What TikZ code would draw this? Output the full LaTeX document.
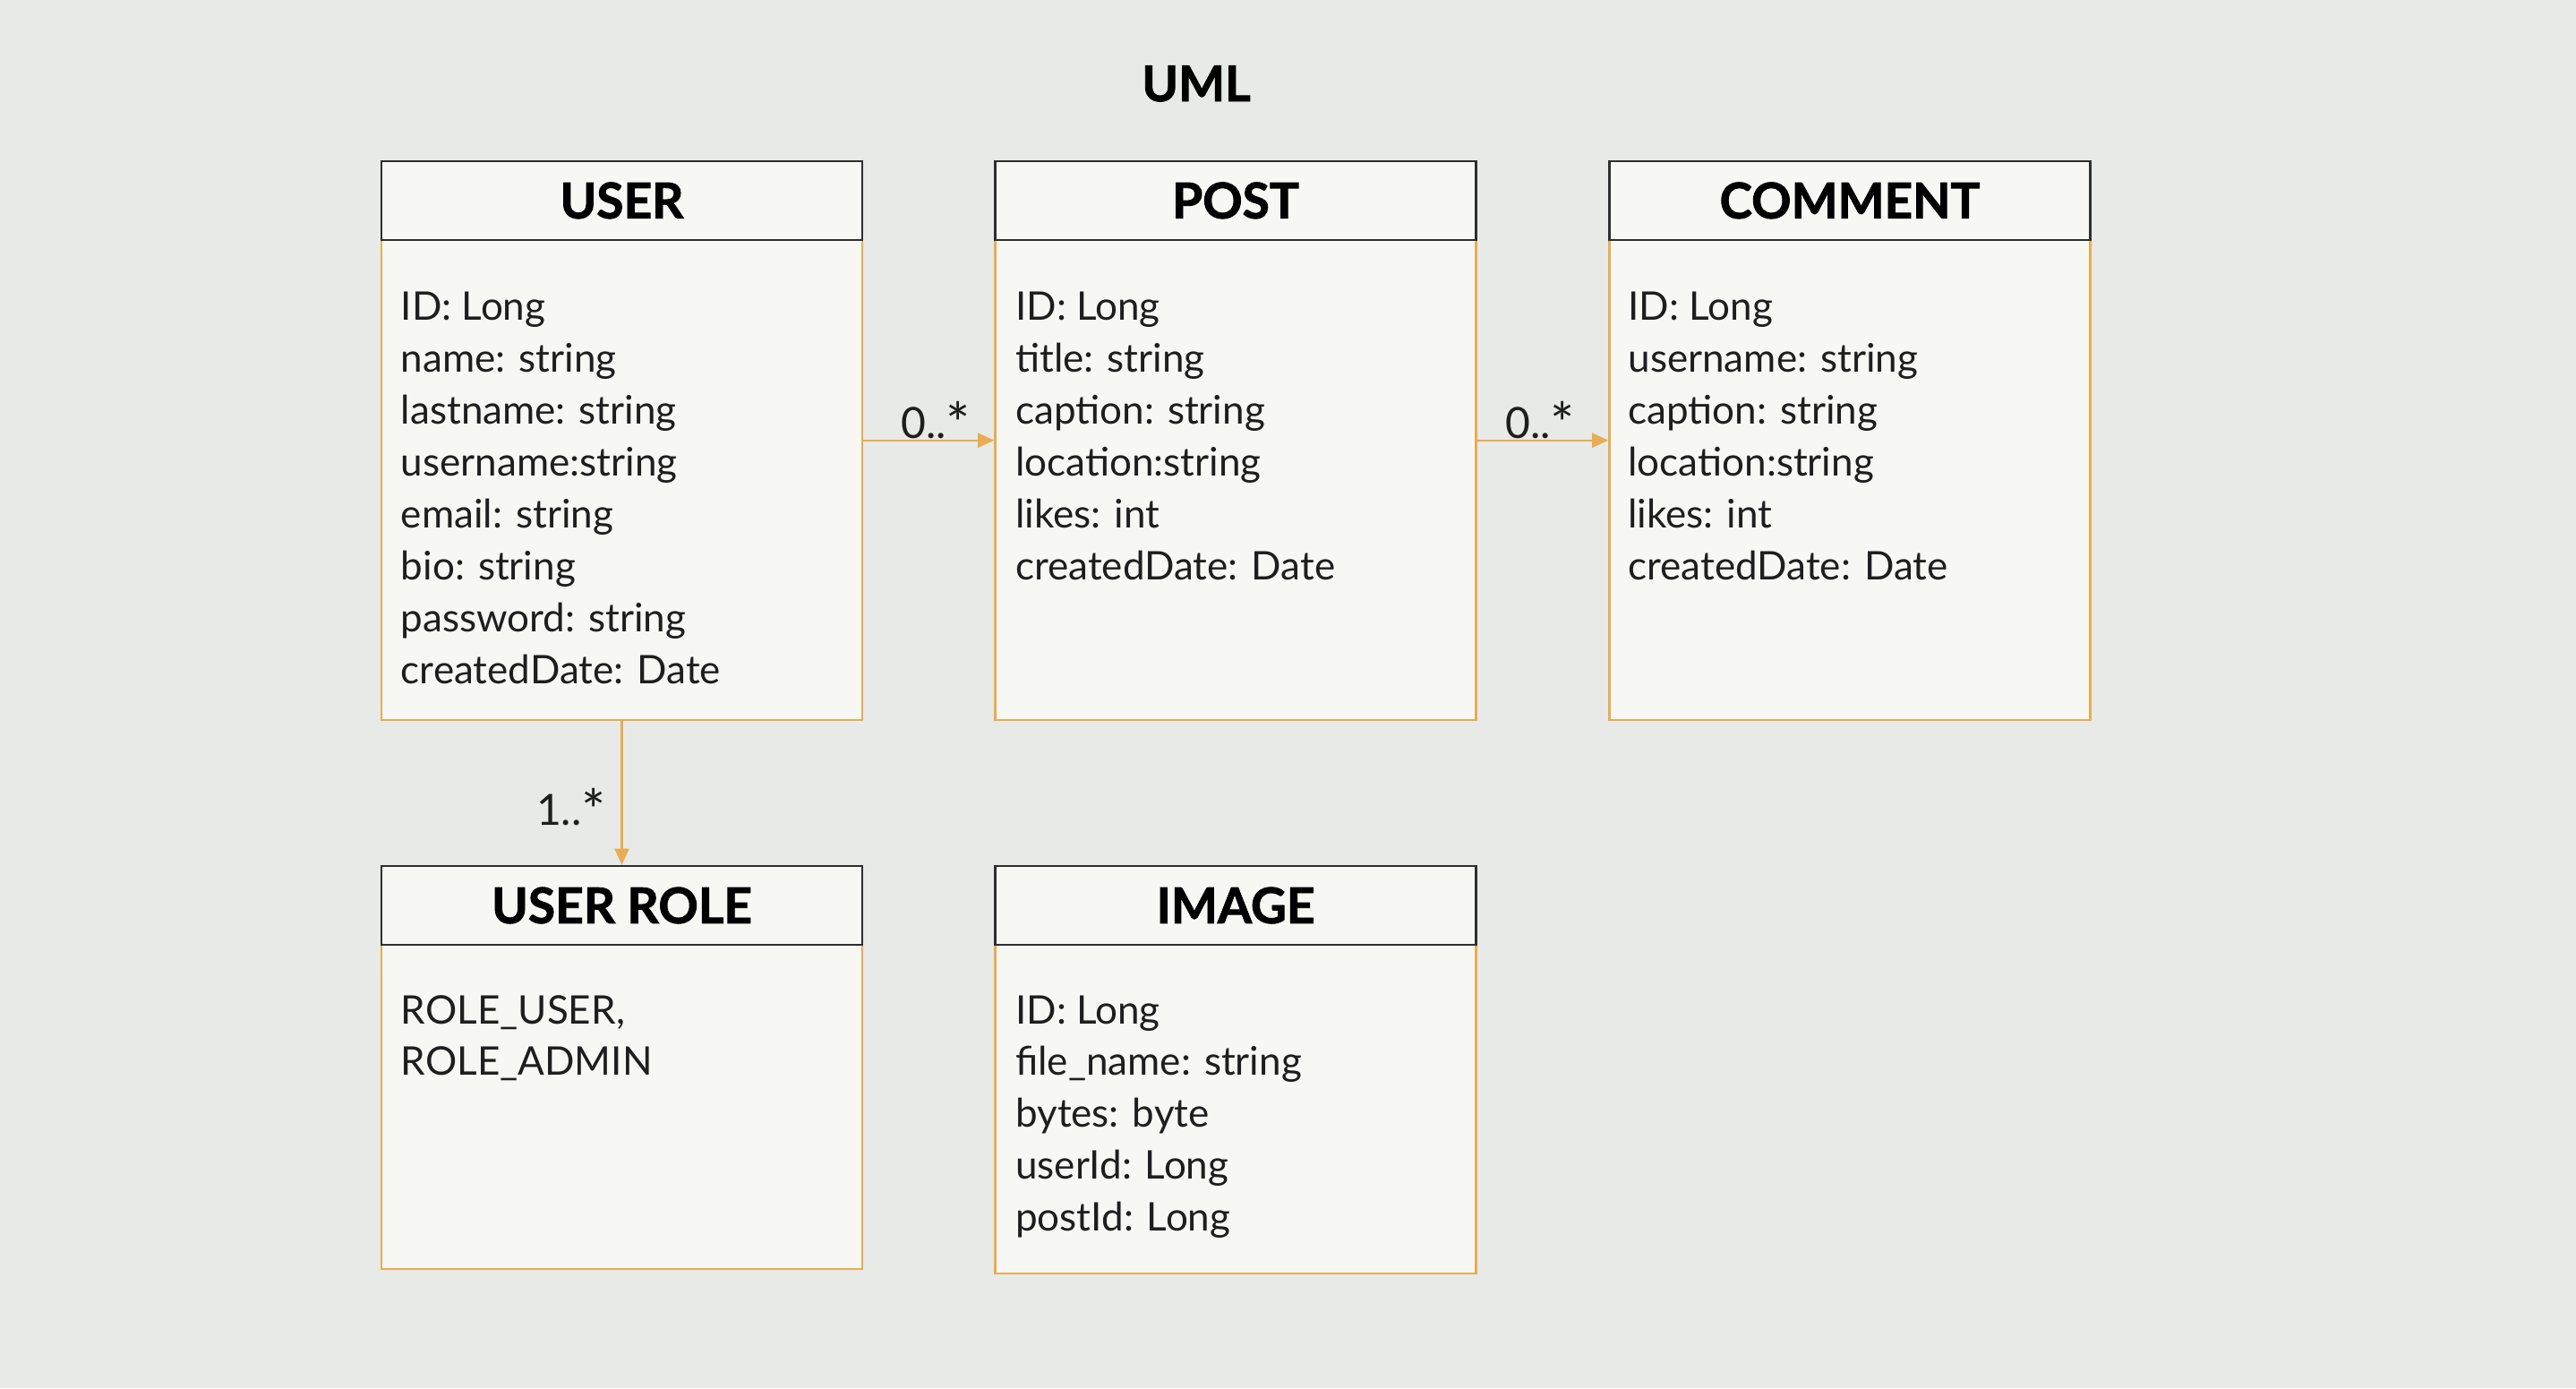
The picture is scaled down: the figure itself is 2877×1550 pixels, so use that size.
\documentclass[tikz,border=0pt]{standalone}
\usepackage{fontspec}
\setmainfont{Lato}
\newfontfamily\hdrfont[BoldFeatures={FakeBold=1.6}]{Lato}
\usetikzlibrary{arrows.meta}
\definecolor{bg}{HTML}{E7EAE6}
\definecolor{boxfill}{HTML}{F7F8F4}
\definecolor{edge}{HTML}{E9AC52}
\definecolor{hdredge}{HTML}{2E2E2E}
\definecolor{ink}{HTML}{1E1E1E}
\newcommand{\bigast}{\raisebox{-7pt}{\fontsize{64}{64}\selectfont *}}
\tikzset{
  hdr/.style={draw=hdredge, line width=2.6pt, fill=boxfill, minimum width=537pt, minimum height=88pt, inner sep=0pt,
     font=\hdrfont\fontsize{55}{66}\selectfont\bfseries, text=black},
  body/.style={draw=edge, line width=2.6pt, fill=boxfill, minimum width=537pt, inner sep=0pt},
  attr/.style={anchor=base west, inner sep=0pt, font=\fontsize{44}{52}\selectfont, text=ink},
  mult/.style={anchor=base, inner sep=0pt, font=\fontsize{48}{56}\selectfont, text=ink},
  assoc/.style={draw=edge, line width=2.4pt, -{Triangle[length=18pt,width=16pt]}},
}
\begin{document}
\begin{tikzpicture}[x=1pt,y=-1pt]
\fill[bg] (0,0) rectangle (2877,1550);
\useasboundingbox (0,0) rectangle (2877,1550);
\node[anchor=base, inner sep=0pt, font=\hdrfont\fontsize{55}{66}\selectfont\bfseries] (title) at (1336,113) {UML};
% bodies
\node[body, minimum height=536pt] (userB) at (694.5,535.8) {};
\node[body, minimum height=536pt] (postB) at (1380,535.8) {};
\node[body, minimum height=536pt] (commB) at (2066,535.8) {};
\node[body, minimum height=362pt] (roleB) at (694.5,1236) {};
\node[body, minimum height=367pt] (imgB) at (1380,1238.5) {};
% headers
\node[hdr] (userH) at (694.5,223.9) {USER};
\node[hdr] (postH) at (1380,223.9) {POST};
\node[hdr] (commH) at (2066,223.9) {COMMENT};
\node[hdr] (roleH) at (694.5,1011) {USER ROLE};
\node[hdr] (imgH) at (1380,1011) {IMAGE};
% attributes
\foreach \t [count=\i] in {ID: Long, name: string, lastname: string, username:string, email: string, bio: string, password: string, createdDate: Date}
  \node[attr] (ua\i) at (447.7,{357.8+(\i-1)*57.9}) {\t};
\foreach \t [count=\i] in {ID: Long, title: string, caption: string, location:string, likes: int, createdDate: Date}
  \node[attr] (pa\i) at (1134,{357.8+(\i-1)*57.9}) {\t};
\foreach \t [count=\i] in {ID: Long, username: string, caption: string, location:string, likes: int, createdDate: Date}
  \node[attr] (ca\i) at (1818.3,{357.8+(\i-1)*57.9}) {\t};
\foreach \t [count=\i] in {{ROLE\_USER,}, ROLE\_ADMIN}
  \node[attr] (ra\i) at (447.7,{1143+(\i-1)*57.9}) {\t};
\foreach \t [count=\i] in {ID: Long, file\_name: string, bytes: byte, userId: Long, postId: Long}
  \node[attr] (ia\i) at (1134,{1143+(\i-1)*57.9}) {\t};
% connectors
\coordinate (a1s) at (userB.east |- 0,491.7);
\coordinate (a1e) at (postB.west |- 0,491.7);
\draw[assoc] (a1s) -- (a1e);
\coordinate (a2s) at (postB.east |- 0,491.7);
\coordinate (a2e) at (commB.west |- 0,491.7);
\draw[assoc] (a2s) -- (a2e);
\draw[assoc] (userB.south) -- (roleH.north);
\node[mult] (m1) at (1045,489) {0..\bigast};
\node[mult] (m2) at (1720,489) {0..\bigast};
\node[mult] (m3) at (638,921) {1..\bigast};
\end{tikzpicture}
\end{document}
